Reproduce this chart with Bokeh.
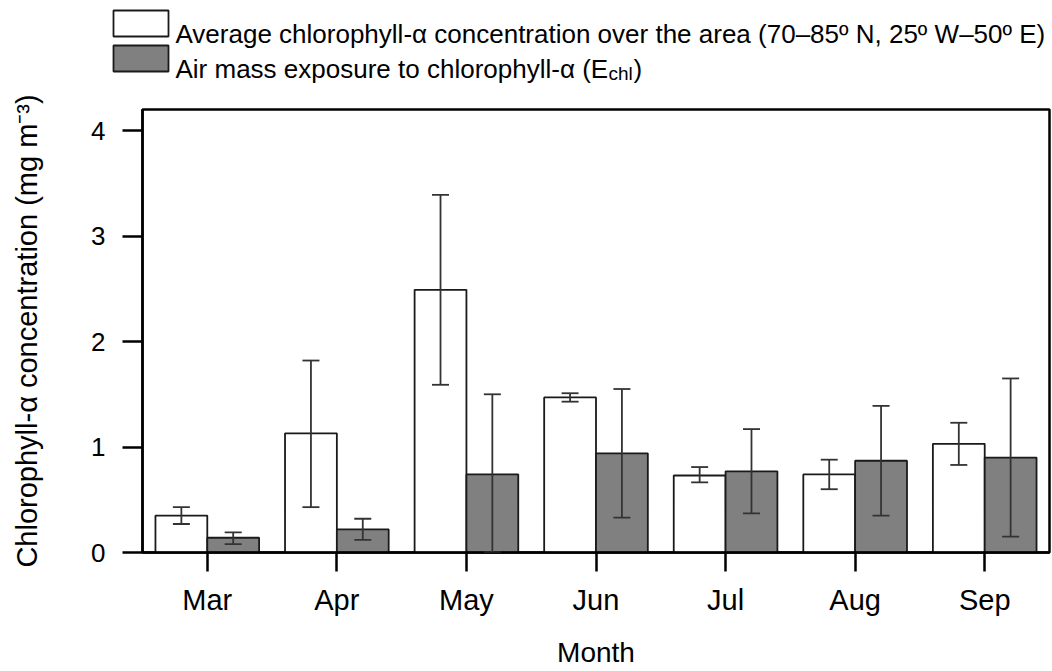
from bokeh.plotting import figure
from bokeh.models import ColumnDataSource, Range1d, FactorRange, Whisker, TeeHead
from bokeh.core.properties import value
from bokeh.transform import dodge
from bokeh.embed import file_html
from bokeh.resources import INLINE

# ---- data ----
months = ["Mar", "Apr", "May", "Jun", "Jul", "Aug", "Sep"]
avg_chl = [0.35, 1.13, 2.49, 1.47, 0.73, 0.74, 1.03]
avg_chl_upper = [0.43, 1.82, 3.39, 1.51, 0.81, 0.88, 1.23]
avg_chl_lower = [0.27, 0.43, 1.59, 1.43, 0.665, 0.60, 0.83]
echl = [0.14, 0.22, 0.74, 0.94, 0.77, 0.87, 0.90]
echl_upper = [0.19, 0.32, 1.50, 1.55, 1.17, 1.39, 1.65]
echl_lower = [0.08, 0.12, 0.00, 0.33, 0.37, 0.35, 0.15]
y_ticks = [0, 1, 2, 3, 4]

legend_1 = "Average chlorophyll-\u03b1 concentration over the area (70\u201385\u00ba N, 25\u00ba W\u201350\u00ba E)"
legend_2 = "Air mass exposure to chlorophyll-\u03b1 (E"
legend_2_sub = "chl"
legend_2_end = ")"
y_title = "Chlorophyll-\u03b1 concentration (mg m\u207b\u00b3)"
x_title = "Month"

FONT = "Liberation Sans"
GRAY = "#808080"
EDGE = "#1a1a1a"
ERR = "#333333"
LEG_H = 90

src = ColumnDataSource(dict(month=months, avg=avg_chl, avg_hi=avg_chl_upper, avg_lo=avg_chl_lower,
                            e=echl, e_hi=echl_upper, e_lo=echl_lower))

# ---------------- legend strip (pixel coordinates, y downward) ----------------
leg = figure(width=1052, height=LEG_H, x_range=Range1d(0, 1052), y_range=Range1d(LEG_H, 0),
             x_axis_type=None, y_axis_type=None, output_backend="svg", toolbar_location=None,
             min_border=0, title=None)
leg.outline_line_color = None
leg.xgrid.visible = False
leg.ygrid.visible = False
leg.quad(left=[113, 113], right=[168, 168], top=[10, 45], bottom=[36, 71],
         fill_color=["white", GRAY], line_color=EDGE, line_width=1.8)
leg.text(x=[175, 175], y=[33, 68], text=[legend_1, legend_2], text_font=value(FONT),
         text_font_size="26px", text_baseline="alphabetic", text_color="black")
leg.text(x=[608], y=[73], text=[legend_2_sub], text_font=value(FONT),
         text_font_size="19px", text_baseline="alphabetic", text_color="black")
leg.text(x=[633], y=[68], text=[legend_2_end], text_font=value(FONT),
         text_font_size="26px", text_baseline="alphabetic", text_color="black")

# ---------------- main chart ----------------
p = figure(width=1052, height=671 - LEG_H, x_range=FactorRange(*months), y_range=Range1d(0, 4.2),
           output_backend="svg", toolbar_location=None, title=None,
           min_border_left=142, min_border_right=3, min_border_top=109 - LEG_H,
           min_border_bottom=119)
p.background_fill_color = "white"
p.border_fill_color = "white"
p.outline_line_color = "black"
p.outline_line_width = 2.5
p.xgrid.visible = False
p.ygrid.visible = False

p.vbar(x=dodge("month", -0.2, range=p.x_range), top="avg", width=0.4, source=src,
       fill_color="white", line_color=EDGE, line_width=1.8)
p.vbar(x=dodge("month", 0.2, range=p.x_range), top="e", width=0.4, source=src,
       fill_color=GRAY, line_color=EDGE, line_width=1.8)

for base, up, lo in [(-0.2, "avg_hi", "avg_lo"), (0.2, "e_hi", "e_lo")]:
    w = Whisker(base=dodge("month", base, range=p.x_range), upper=up, lower=lo, source=src,
                line_color=ERR, line_width=1.8, level="overlay",
                upper_head=TeeHead(size=17, line_color=ERR, line_width=1.8),
                lower_head=TeeHead(size=17, line_color=ERR, line_width=1.8))
    p.add_layout(w)

for ax in (p.xaxis[0], p.yaxis[0]):
    ax.axis_line_width = 2.5
    ax.axis_line_color = "black"
    ax.major_tick_line_width = 2.5
    ax.major_tick_line_color = "black"
    ax.major_tick_in = 0
    ax.minor_tick_line_color = None
    ax.major_label_text_font = FONT
    ax.major_label_text_color = "black"
    ax.axis_label_text_font = FONT
    ax.axis_label_text_font_style = "normal"
    ax.axis_label_text_color = "black"

p.yaxis.ticker = y_ticks
p.yaxis.major_tick_out = 20
p.yaxis.major_label_standoff = 17
p.yaxis.major_label_text_font_size = "26px"
p.yaxis.axis_label = y_title
p.yaxis.axis_label_text_font_size = "29px"
p.yaxis.axis_label_standoff = 45

p.xaxis.major_tick_out = 19
p.xaxis.major_label_standoff = 12
p.xaxis.major_label_text_font_size = "29px"
p.xaxis.axis_label = x_title
p.xaxis.axis_label_text_font_size = "28px"
p.xaxis.axis_label_standoff = 18

# two separate roots (no frame alignment between them), stacked vertically
open("out.html", "w").write(file_html([leg, p], INLINE))
